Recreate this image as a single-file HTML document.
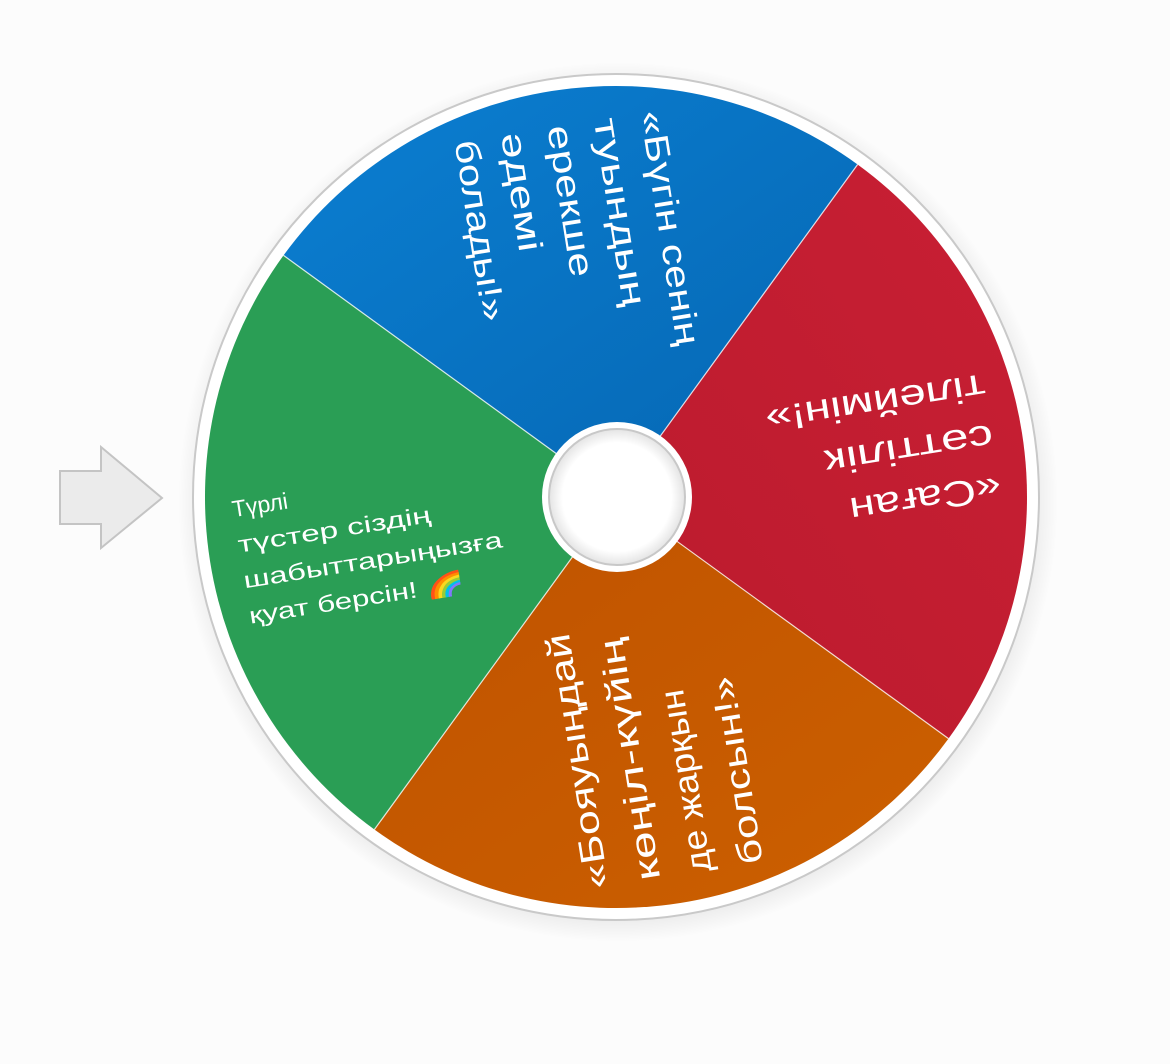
<!DOCTYPE html>
<html><head><meta charset="utf-8"><style>
html,body{margin:0;padding:0;background:#fcfcfc;}
svg{display:block;}
text{font-family:"Liberation Sans","DejaVu Sans",sans-serif;fill:#fff;}
</style></head><body>
<svg width="1170" height="1064" viewBox="0 0 1170 1064" xmlns="http://www.w3.org/2000/svg">
<defs>
<radialGradient id="sh" cx="0.5" cy="0.5" r="0.5">
<stop offset="0.9" stop-color="#000" stop-opacity="0.12"/>
<stop offset="1" stop-color="#000" stop-opacity="0"/>
</radialGradient>
<linearGradient id="gb" x1="0" y1="0" x2="1" y2="1"><stop offset="0" stop-color="#0b7fd2"/><stop offset="1" stop-color="#0566b2"/></linearGradient>
<linearGradient id="gr" x1="1" y1="0" x2="0" y2="1"><stop offset="0" stop-color="#c81f34"/><stop offset="1" stop-color="#bb1b2d"/></linearGradient>
<linearGradient id="go" x1="0" y1="0" x2="1" y2="1"><stop offset="0" stop-color="#bf5200"/><stop offset="1" stop-color="#cc6000"/></linearGradient>
<radialGradient id="hub" cx="0.5" cy="0.5" r="0.5"><stop offset="0.8" stop-color="#fff"/><stop offset="1" stop-color="#e4e4e4"/></radialGradient>
</defs>
<path d="M60 471 L101 471 L101 447 L162 498 L101 548 L101 524 L60 524 Z" fill="#ebebeb" stroke="#c4c4c4" stroke-width="2"/>
<circle cx="618" cy="502" r="440" fill="url(#sh)"/>
<circle cx="616" cy="497" r="423" fill="#fff" stroke="#c9c9c9" stroke-width="2"/>
<path d="M616 497 L283.5 255.4 A411 411 0 0 1 857.6 164.5 Z" fill="url(#gb)"/>
<path d="M616 497 L857.6 164.5 A411 411 0 0 1 948.5 738.6 Z" fill="url(#gr)"/>
<path d="M616 497 L948.5 738.6 A411 411 0 0 1 374.4 829.5 Z" fill="url(#go)"/>
<path d="M616 497 L374.4 829.5 A411 411 0 0 1 283.5 255.4 Z" fill="#2a9e55"/>
<g stroke="#fff" stroke-width="1.2" opacity="0.8">
<line x1="616" y1="497" x2="283.5" y2="255.4"/><line x1="616" y1="497" x2="857.6" y2="164.5"/>
<line x1="616" y1="497" x2="948.5" y2="738.6"/><line x1="616" y1="497" x2="374.4" y2="829.5"/>
</g>
<g transform="translate(616 497) rotate(81)">
<text font-size="34">
<tspan x="-376" y="-84" textLength="237" lengthAdjust="spacingAndGlyphs">«Бүгін сенің</tspan>
<tspan x="-376" y="-37" textLength="190" lengthAdjust="spacingAndGlyphs">туындың</tspan>
<tspan x="-376" y="10" textLength="153" lengthAdjust="spacingAndGlyphs">ерекше</tspan>
<tspan x="-376" y="57" textLength="120" lengthAdjust="spacingAndGlyphs">әдемі</tspan>
<tspan x="-376" y="104" textLength="183" lengthAdjust="spacingAndGlyphs">болады!»</tspan>
</text></g>
<g transform="translate(616 497) rotate(171)">
<text font-size="36">
<tspan x="-382" y="-38" textLength="153" lengthAdjust="spacingAndGlyphs">«Саған</tspan>
<tspan x="-382" y="13" textLength="170" lengthAdjust="spacingAndGlyphs">сәттілік</tspan>
<tspan x="-382" y="64" textLength="222" lengthAdjust="spacingAndGlyphs">тілеймін!»</tspan>
</text></g>
<g transform="translate(616 497) rotate(-99)">
<text font-size="34">
<tspan x="-384" y="-68" textLength="258" lengthAdjust="spacingAndGlyphs">«Бояуыңдай</tspan>
<tspan x="-384" y="-16" textLength="245" lengthAdjust="spacingAndGlyphs">көңіл-күйің</tspan>
<tspan x="-384" y="36" textLength="185" lengthAdjust="spacingAndGlyphs">де жарқын</tspan>
<tspan x="-384" y="88" textLength="190" lengthAdjust="spacingAndGlyphs">болсын!»</tspan>
</text></g>
<g transform="translate(616 497) rotate(-9)">
<text font-size="23">
<tspan x="-381" y="-40">Түрлі</tspan>
<tspan x="-381" y="-4" textLength="195" lengthAdjust="spacingAndGlyphs">түстер сіздің</tspan>
<tspan x="-381" y="32" textLength="262" lengthAdjust="spacingAndGlyphs">шабыттарыңызға</tspan>
<tspan x="-381" y="68" textLength="218" lengthAdjust="spacingAndGlyphs">қуат берсін! 🌈</tspan>
</text></g>
<circle cx="617" cy="497" r="75" fill="#fff"/>
<circle cx="617" cy="497" r="68" fill="url(#hub)" stroke="#c8c8c8" stroke-width="2"/>
</svg>
</body></html>
